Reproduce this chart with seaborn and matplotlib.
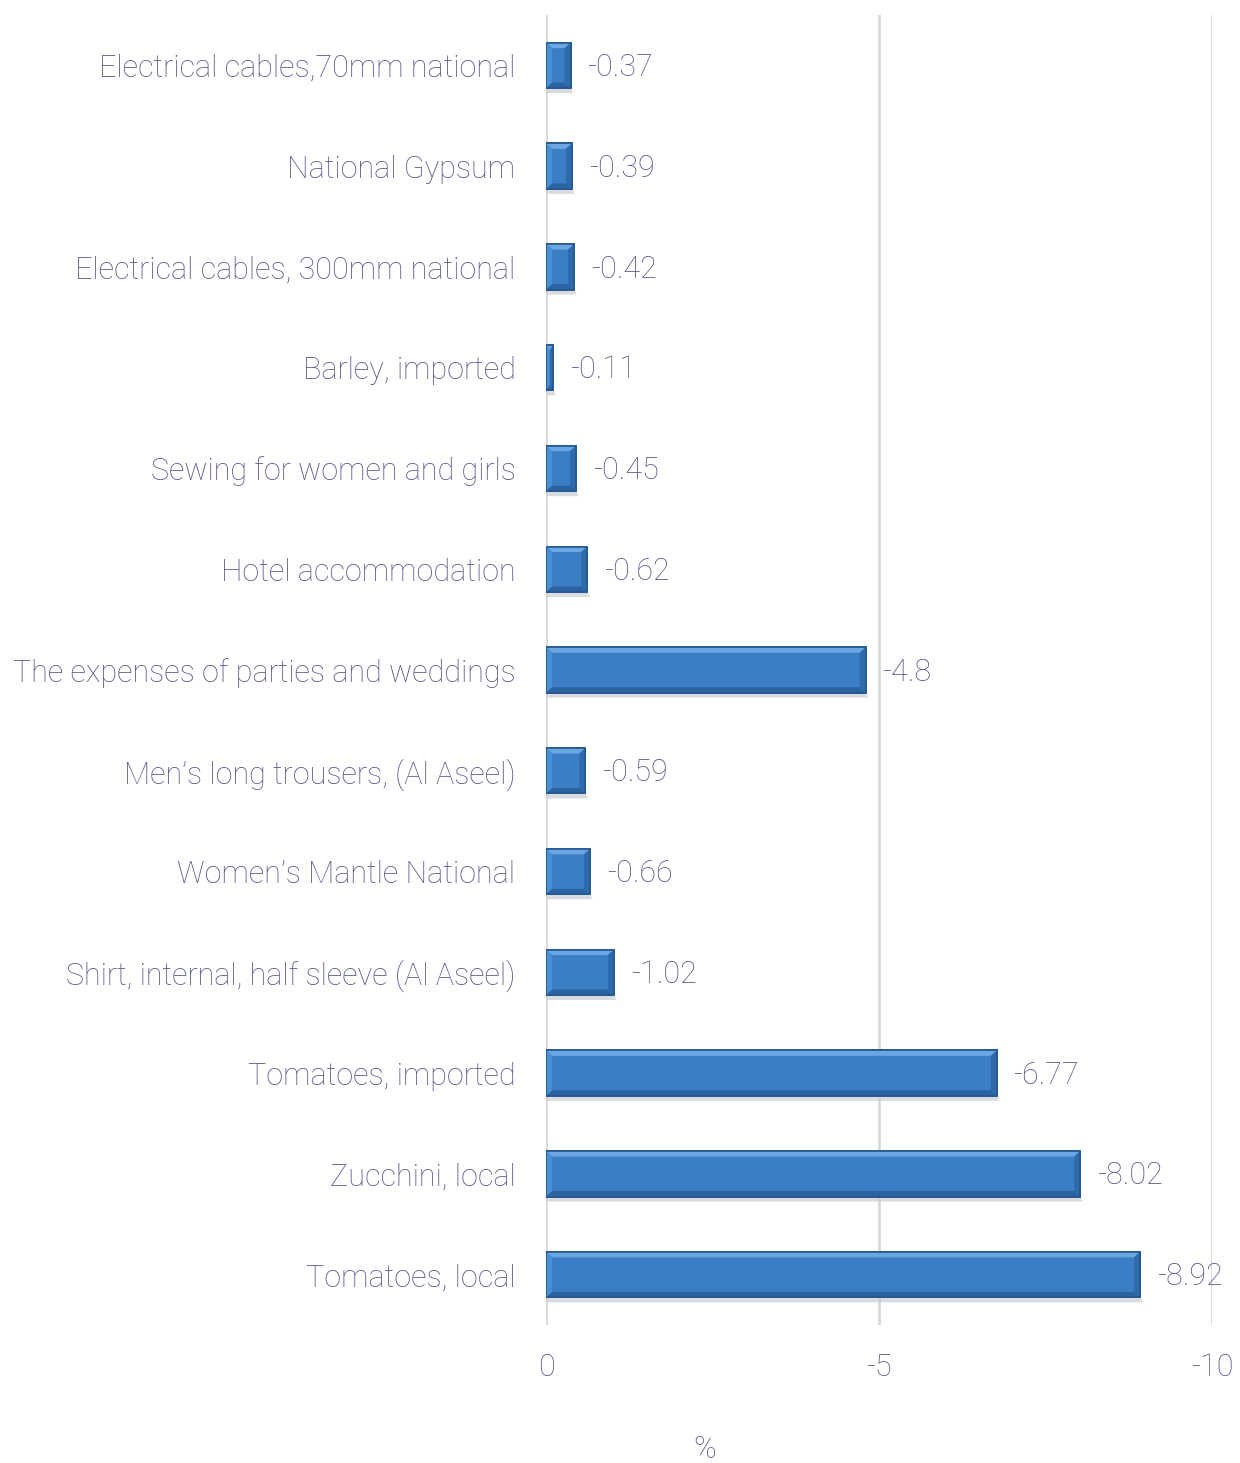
import matplotlib
matplotlib.use("Agg")
import matplotlib.pyplot as plt
import seaborn as sns
import pandas as pd
from matplotlib.patches import Polygon

categories = [
    "Electrical cables,70mm national",
    "National Gypsum",
    "Electrical cables, 300mm national",
    "Barley, imported",
    "Sewing for women and girls",
    "Hotel accommodation",
    "The expenses of parties and weddings",
    "Men\u2019s long trousers, (Al Aseel)",
    "Women\u2019s Mantle National",
    "Shirt, internal, half sleeve (Al Aseel)",
    "Tomatoes, imported",
    "Zucchini, local",
    "Tomatoes, local",
]
values = [-0.37, -0.39, -0.42, -0.11, -0.45, -0.62, -4.8, -0.59, -0.66, -1.02, -6.77, -8.02, -8.92]
value_labels = ["-0.37", "-0.39", "-0.42", "-0.11", "-0.45", "-0.62", "-4.8", "-0.59", "-0.66", "-1.02", "-6.77", "-8.02", "-8.92"]
xticks = [0, -5, -10]
xtick_labels = ["0", "-5", "-10"]
xlabel = "%"

sns.set_theme(style="white")
plt.rcParams["font.family"] = ["Roboto", "DejaVu Sans"]
TXT = "#56568c"
BAR = "#3a7ec6"
FS = 22
FW = "light"

df = pd.DataFrame({"cat": categories, "val": values})

fig = plt.figure(figsize=(12.4, 14.63), dpi=100)
ax = fig.add_axes([546 / 1240, 1 - 1325 / 1463, (1212 - 546) / 1240, (1325 - 15) / 1463])

sns.barplot(data=df, y="cat", x="val", orient="h", color=BAR, width=0.45,
            saturation=1, edgecolor="#24578f", linewidth=1.2, ax=ax, zorder=3)

ax.set_xlim(0, -10)
ax.set_ylim(12.5, -0.5)
ax.set_xticks(xticks)
ax.set_xticklabels(xtick_labels, color=TXT, fontsize=FS, fontweight=FW)
ax.tick_params(axis="x", length=6, width=2, color="#d9d9d9", pad=14)
ax.tick_params(axis="y", length=0, pad=22)
for lab in ax.get_yticklabels():
    lab.set_color(TXT)
    lab.set_fontsize(FS)
    lab.set_fontweight(FW)
ax.set_ylabel("")
ax.set_xlabel("")
ax.grid(axis="x", color="#d9d9d9", linewidth=2, zorder=0)
ax.grid(axis="y", visible=False)
for s in ax.spines.values():
    s.set_visible(False)

# bevel effect and value labels, derived from the drawn bars
for patch, lbl in zip(ax.patches, value_labels):
    x0 = patch.get_x()
    w = patch.get_width()
    y0 = patch.get_y()
    h = patch.get_height()
    x1 = x0 + w
    ytop, ybot = min(y0, y0 + h), max(y0, y0 + h)
    bh = 0.12 * h
    bw = min(0.09, abs(w) / 2)
    xl, xr = x0, x1
    sh = Polygon([(xl, ybot), (xr, ybot), (xr - 0.04, ybot + 0.05), (xl, ybot + 0.05)],
                 closed=True, facecolor="#c9ccd3", edgecolor="none", zorder=2, alpha=0.7)
    ax.add_patch(sh)
    top = Polygon([(xl, ytop), (xr, ytop), (xr + bw, ytop + bh), (xl - bw, ytop + bh)],
                  closed=True, facecolor="#6aa6e2", edgecolor="none", zorder=4)
    bot = Polygon([(xl, ybot), (xr, ybot), (xr + bw, ybot - bh), (xl - bw, ybot - bh)],
                  closed=True, facecolor="#2b62a0", edgecolor="none", zorder=4)
    right = Polygon([(xr, ytop), (xr + bw, ytop + bh), (xr + bw, ybot - bh), (xr, ybot)],
                    closed=True, facecolor="#2f6aab", edgecolor="none", zorder=4)
    left = Polygon([(xl, ytop), (xl - bw, ytop + bh), (xl - bw, ybot - bh), (xl, ybot)],
                   closed=True, facecolor="#4a8fd4", edgecolor="none", zorder=4)
    for p in (top, bot, right, left):
        ax.add_patch(p)
    ax.annotate(lbl, xy=(x1, y0 + h / 2), xytext=(12, -1.5), textcoords="offset points",
                ha="left", va="center", color=TXT, fontsize=FS, fontweight=FW,
                zorder=5, annotation_clip=False)
    ax.add_patch(plt.Rectangle((x0, y0), w, h, fill=False, edgecolor="#24578f",
                               linewidth=1.2, zorder=5))

fig.text(705 / 1240, 1 - 1450 / 1463, xlabel, ha="center", va="center",
         color=TXT, fontsize=FS, fontweight=FW)

fig.savefig("out.png", dpi=100, facecolor="white")
